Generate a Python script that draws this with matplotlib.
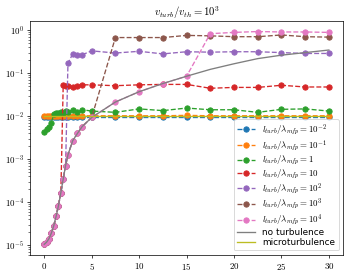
import matplotlib
matplotlib.use("Agg")
import matplotlib.pyplot as plt
from matplotlib.ticker import FuncFormatter
import numpy as np

plt.rcParams['mathtext.fontset'] = 'cm'

# Time grid (x axis)
t = [0, 0.25, 0.5, 0.75, 1.0, 1.25, 1.5, 1.75, 2.0, 2.25, 2.5, 3.0, 3.5, 4.0,
     5, 7.5, 10, 12.5, 15, 17.5, 20, 22.5, 25, 27.5, 30]

# log10 of the values
no_turb_log = [-4.98, -4.93, -4.85, -4.72, -4.55, -4.33, -4.08, -3.78, -3.46, -3.15,
               -2.90, -2.57, -2.40, -2.24, -2.03, -1.67, -1.43, -1.24, -1.07, -0.91,
               -0.78, -0.66, -0.58, -0.52, -0.46]
ratio_m2_log = [-2.01, -2.01, -2.01, -2.01, -2.01, -2.01, -2.01, -2.01, -2.01, -2.01,
                -2.01, -2.01, -2.01, -2.01, -2.01, -2.01, -2.01, -2.01, -2.01, -2.01,
                -2.01, -2.01, -2.01, -2.01, -2.01]
ratio_m1_log = [-2.00, -1.99, -1.99, -1.99, -1.99, -1.99, -1.99, -1.99, -1.99, -1.99,
                -1.99, -1.99, -1.99, -1.99, -1.99, -1.99, -1.99, -1.99, -1.98, -1.99,
                -1.99, -1.99, -1.99, -1.99, -1.99]
ratio_0_log = [-2.37, -2.30, -2.24, -2.15, -1.95, -1.93, -1.92, -1.90, -1.92, -1.88,
               -1.90, -1.85, -1.91, -1.85, -1.88, -1.91, -1.83, -1.87, -1.81, -1.85,
               -1.85, -1.91, -1.84, -1.83, -1.88]
ratio_1_log = [-4.98, -4.93, -4.85, -4.72, -4.55, -4.33, -4.08, -3.78, -1.27, -1.29,
               -1.30, -1.31, -1.29, -1.27, -1.27, -1.29, -1.27, -1.26, -1.26, -1.35,
               -1.33, -1.33, -1.28, -1.32, -1.32]
ratio_2_log = [-4.98, -4.93, -4.85, -4.72, -4.55, -4.33, -4.08, -3.78, -3.46, -3.15,
               -0.77, -0.55, -0.57, -0.57, -0.48, -0.53, -0.49, -0.55, -0.50, -0.51,
               -0.50, -0.50, -0.52, -0.54, -0.54]
ratio_3_log = [-4.98, -4.93, -4.85, -4.72, -4.55, -4.33, -4.08, -3.78, -3.46, -3.15,
               -2.90, -2.57, -2.40, -2.24, -2.03, -0.17, -0.17, -0.17, -0.12, -0.13,
               -0.15, -0.15, -0.11, -0.15, -0.16]
ratio_4_log = [-4.98, -4.93, -4.85, -4.72, -4.55, -4.33, -4.08, -3.78, -3.46, -3.15,
               -2.90, -2.57, -2.40, -2.24, -2.03, -1.67, -1.43, -1.24, -1.07, -0.08,
               -0.05, -0.03, -0.04, -0.04, -0.05]
micro_log = [-1.985] * len(t)

series = [ratio_m2_log, ratio_m1_log, ratio_0_log, ratio_1_log,
          ratio_2_log, ratio_3_log, ratio_4_log]
labels = [r'$l_{turb}/\lambda_{mfp} = 10^{-2}$', r'$l_{turb}/\lambda_{mfp} = 10^{-1}$',
          r'$l_{turb}/\lambda_{mfp} = 1$', r'$l_{turb}/\lambda_{mfp} = 10$',
          r'$l_{turb}/\lambda_{mfp} = 10^{2}$', r'$l_{turb}/\lambda_{mfp} = 10^{3}$',
          r'$l_{turb}/\lambda_{mfp} = 10^{4}$']

fig = plt.figure(figsize=(353 / 64, 275 / 64), dpi=64)
ax = fig.add_subplot(111)
fig.subplots_adjust(left=0.085, right=0.972, bottom=0.073, top=0.924)

for s, lab in zip(series, labels):
    ax.plot(t, 10 ** np.array(s), 'o--', label=lab)
ax.plot(t, 10 ** np.array(no_turb_log), '-', color='C7', label='no turbulence')
ax.plot(t, 10 ** np.array(micro_log), '-', color='C8', label='microturbulence')

ax.set_yscale('log')
ax.set_title(r'$v_{turb}/v_{th} = 10^3$')
ax.xaxis.set_major_formatter(FuncFormatter(lambda v, p: r'$%g$' % v))
ax.yaxis.set_major_formatter(FuncFormatter(lambda v, p: r'$10^{%d}$' % round(np.log10(v))))
ax.legend(loc='lower right', fontsize=10, labelspacing=0.05)

plt.savefig('out.png', dpi=64)
